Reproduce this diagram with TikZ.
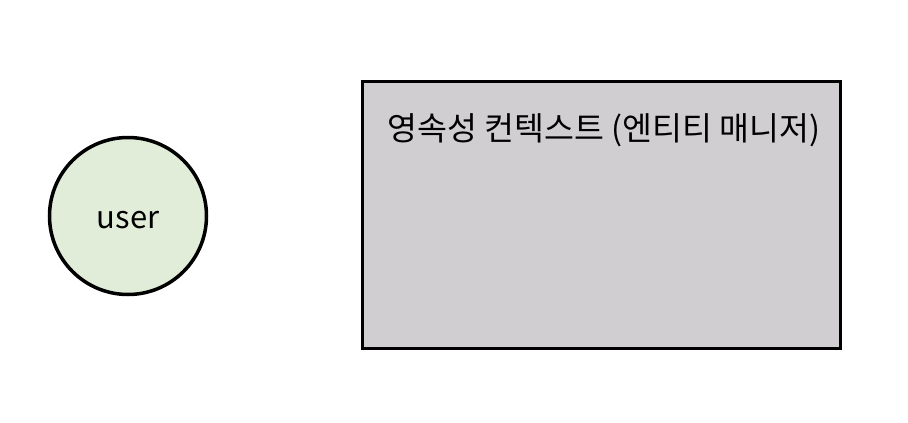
\documentclass[tikz,border=0pt]{standalone}
\usepackage{fontspec}
\setmainfont{Noto Sans CJK KR}
\usetikzlibrary{positioning}
\definecolor{userfill}{HTML}{E2EDD9}
\definecolor{ctxfill}{HTML}{D0CED0}

\begin{document}
\begin{tikzpicture}[x=1pt,y=-1pt]
    \useasboundingbox (0,0) rectangle (908,423);
    \node [circle,draw,line width=3.5pt,fill=userfill,minimum size=157pt,inner sep=0pt,
           label={[yshift=-4pt,font=\fontsize{31}{34}\selectfont]center:user}] (user) at (128,216) {};
    \node [draw,line width=3.5pt,fill=ctxfill,minimum width=478pt,minimum height=267pt,inner sep=0pt] (ctx) at (601.5,215) {};
    \node [inner sep=0pt] (ctxlabel) at (604,130) {\fontsize{32.5}{36}\selectfont 영속성 컨텍스트 (엔티티 매니저)};
\end{tikzpicture}
\end{document}
